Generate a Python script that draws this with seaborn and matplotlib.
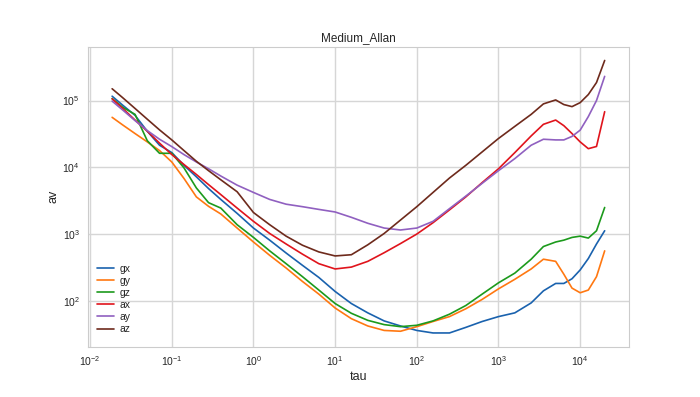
import matplotlib
matplotlib.use('agg')
import matplotlib.pyplot as plt
import seaborn as sns
import pandas as pd

# averaging times (s)
tau = [0.0186, 0.0251, 0.0355, 0.0501, 0.0708, 0.1, 0.141, 0.2, 0.282, 0.398,
       0.631, 1.0, 1.58, 2.51, 3.98, 6.31, 10, 15.8, 25.1, 39.8,
       63.1, 100, 158, 251, 398, 631, 1000, 1585, 2512, 3548,
       5012, 6310, 7943, 10000, 12589, 15849, 19953]

gx = [1.16e5, 8.5e4, 6.0e4, 3.47e4, 2.14e4, 1.66e4, 1.07e4, 7.2e3, 4.8e3, 3.3e3,
      2.04e3, 1.23e3, 8.1e2, 5.2e2, 3.4e2, 2.24e2, 1.38e2, 91, 66, 50,
      42, 36, 33, 33, 40, 49, 58, 66, 93, 141,
      182, 182, 214, 290, 430, 710, 1120]
gy = [5.6e4, 4.3e4, 3.2e4, 2.4e4, 1.78e4, 1.2e4, 6.8e3, 3.6e3, 2.6e3, 2.0e3,
      1.23e3, 7.6e2, 4.8e2, 3.1e2, 1.95e2, 1.26e2, 78, 54, 42, 36,
      35, 41, 49, 58, 76, 105, 151, 210, 300, 420,
      390, 250, 155, 132, 145, 230, 560]
gz = [1.07e5, 7.9e4, 6.2e4, 2.5e4, 1.62e4, 1.62e4, 9.8e3, 4.9e3, 2.95e3, 2.45e3,
      1.38e3, 8.9e2, 5.6e2, 3.6e2, 2.3e2, 1.45e2, 91, 65, 51, 44,
      41, 43, 50, 63, 85, 126, 186, 260, 420, 650,
      760, 810, 890, 930, 870, 1120, 2500]
ax_ = [1.06e5, 7.6e4, 5.1e4, 3.47e4, 2.3e4, 1.55e4, 1.1e4, 7.8e3, 5.5e3, 3.9e3,
       2.45e3, 1.55e3, 1.02e3, 7.1e2, 5.0e2, 3.6e2, 3.0e2, 3.2e2, 3.9e2, 5.25e2,
       7.2e2, 1.0e3, 1.48e3, 2.3e3, 3.6e3, 5.9e3, 9.5e3, 1.66e4, 2.95e4, 4.4e4,
       5.1e4, 4.2e4, 3.2e4, 2.4e4, 1.9e4, 2.05e4, 6.8e4]
ay = [9.8e4, 7.2e4, 5.0e4, 3.55e4, 2.63e4, 2.04e4, 1.55e4, 1.2e4, 9.5e3, 7.4e3,
      5.4e3, 4.2e3, 3.3e3, 2.8e3, 2.57e3, 2.34e3, 2.14e3, 1.78e3, 1.45e3, 1.23e3,
      1.15e3, 1.23e3, 1.55e3, 2.4e3, 3.7e3, 5.75e3, 8.9e3, 1.35e4, 2.14e4, 2.63e4,
      2.57e4, 2.57e4, 2.9e4, 3.6e4, 5.75e4, 1.0e5, 2.3e5]
az = [1.5e5, 1.1e5, 7.6e4, 5.25e4, 3.63e4, 2.57e4, 1.78e4, 1.23e4, 8.9e3, 6.5e3,
      4.3e3, 2.1e3, 1.38e3, 9.3e2, 6.8e2, 5.4e2, 4.7e2, 4.9e2, 6.9e2, 1.02e3,
      1.62e3, 2.57e3, 4.2e3, 6.9e3, 1.07e4, 1.7e4, 2.7e4, 4.1e4, 6.2e4, 8.9e4,
      1.02e5, 8.7e4, 8.1e4, 9.3e4, 1.23e5, 1.86e5, 3.98e5]

x_ticks = [1e-2, 1e-1, 1e0, 1e1, 1e2, 1e3, 1e4]
y_ticks = [1e2, 1e3, 1e4, 1e5]

series = {'gx': gx, 'gy': gy, 'gz': gz, 'ax': ax_, 'ay': ay, 'az': az}
colors = ['#1a62ae', '#ff7811', '#1c9a1c', '#e0141c', '#9060c0', '#6e2a1c']

frames = []
for name, vals in series.items():
    frames.append(pd.DataFrame({'tau': tau, 'av': vals, 'sensor': name}))
df = pd.concat(frames, ignore_index=True)

sns.set_style("whitegrid")
plt.rcParams['font.family'] = ['Liberation Sans', 'DejaVu Sans']

fig = plt.figure(figsize=(7, 3.97), dpi=100)
ax = fig.add_axes([0.125, 0.127, 0.774, 0.755])
sns.lineplot(data=df, x='tau', y='av', hue='sensor', palette=colors,
             estimator=None, sort=False, linewidth=1.2, ax=ax)
ax.set_xscale('log')
ax.set_yscale('log')
ax.set_xticks(x_ticks)
ax.set_yticks(y_ticks)
ax.minorticks_off()
ax.set_title('Medium_Allan', fontsize=8.5, pad=4)
ax.set_xlabel('tau', fontsize=9, labelpad=2)
ax.set_ylabel('av', fontsize=9, labelpad=2)
ax.tick_params(labelsize=7.5, pad=2)
ax.grid(True, which='major', color='#d6d6d6', linewidth=1)
ax.legend(loc='lower left', frameon=False, fontsize=7.5, handlelength=1.6,
          handletextpad=0.6, labelspacing=0.2, bbox_to_anchor=(0.0, 0.01))

plt.savefig('out.png', dpi=100)
plt.close()
